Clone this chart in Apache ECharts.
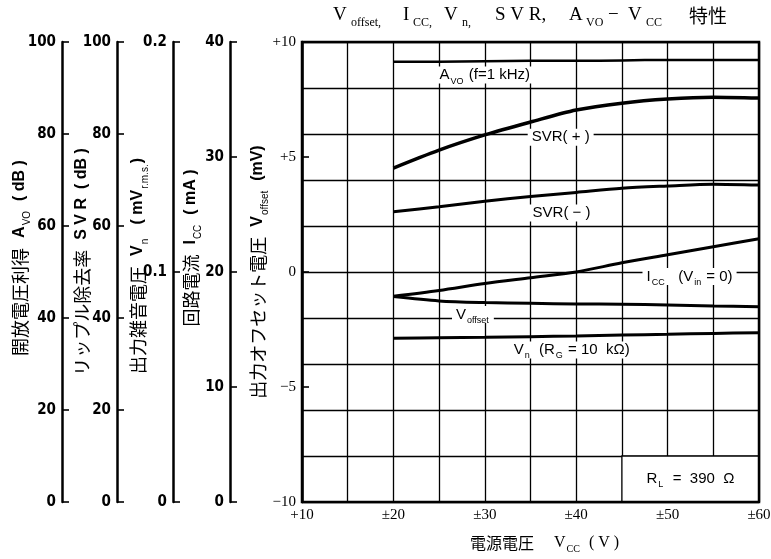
<!DOCTYPE html>
<html>
<head>
<meta charset="utf-8">
<script src="https://cdn.jsdelivr.net/npm/echarts@6/dist/echarts.min.js"></script>
<style>
  html, body { margin: 0; padding: 0; background: #fff; }
  #chart { width: 771px; height: 559px; }
</style>
</head>
<body>
<div id="chart"></div>
<script>
// Supply voltage points (±V) where each characteristic was measured
const vcc = [20, 25, 30, 35, 40, 45, 50, 55, 60];
// Open-loop gain A_VO (dB), f = 1 kHz
const avoDb = [95.7, 95.7, 95.8, 95.9, 95.9, 96.0, 96.1, 96.1, 96.1];
// Supply voltage rejection (dB), positive and negative rails
const svrPlusDb = [72.6, 76.5, 79.8, 82.6, 85.2, 86.7, 87.6, 88.0, 87.8];
const svrMinusDb = [63.1, 64.2, 65.4, 66.4, 67.3, 68.2, 68.7, 69.1, 68.9];
// Supply current I_CC (mA), V_in = 0
const iccMa = [17.9, 18.4, 19.0, 19.5, 20.0, 20.8, 21.5, 22.2, 22.9];
// Output offset voltage (mV)
const voffsetMv = [-1.07, -1.26, -1.33, -1.36, -1.39, -1.40, -1.43, -1.48, -1.51];
// Output noise voltage V_n (mV r.m.s.), R_G = 10 kΩ
const vnMv = [0.0712, 0.0714, 0.0716, 0.0719, 0.0722, 0.0726, 0.0729, 0.0733, 0.0736];

// Tick labels
const xTickValues = [10, 20, 30, 40, 50, 60];
const xTickLabels = ['+10', '±20', '±30', '±40', '±50', '±60'];
const mvTickValues = [-10, -5, 0, 5, 10];
const mvTickLabels = ['−10', '−5', '0', '+5', '+10'];
const vnTickValues = [0, 0.1, 0.2];
const vnTickLabels = ['0', '0.1', '0.2'];

const serif = "'Liberation Serif','DejaVu Serif',serif";
const sans = "'Liberation Sans','DejaVu Sans',sans-serif";
const narrow = "'Liberation Sans Narrow','DejaVu Sans Condensed','Liberation Sans',sans-serif";
const cjk = "'Noto Sans CJK JP',sans-serif";

function lookup(values, labels) {
  return function (v) {
    const i = values.findIndex(t => Math.abs(t - v) < 1e-9);
    return i < 0 ? '' : labels[i];
  };
}

const rich = {
  j: { fontFamily: cjk, fontSize: 18, color: '#000' },
  b: { fontFamily: sans, fontSize: 16, fontWeight: 'bold', color: '#000' },
  bs: { fontFamily: sans, fontSize: 10, color: '#000', verticalAlign: 'bottom', padding: [0, 1, -3, 1] },
  t: { fontFamily: sans, fontSize: 15, color: '#000' },
  ts: { fontFamily: sans, fontSize: 9, color: '#000', verticalAlign: 'bottom', padding: [0, 1, -3, 1] },
  x: { fontFamily: serif, fontSize: 16, color: '#000' },
  xs: { fontFamily: serif, fontSize: 10, color: '#000', verticalAlign: 'bottom', padding: [0, 1, -3, 1] },
  xj: { fontFamily: cjk, fontSize: 16, color: '#000' }
};

// Title pieces laid out with fixed widths for the wide typesetting
const titleRich = {
  n: { fontFamily: serif, fontSize: 19, fontWeight: 'normal', color: '#000' },
  s: { fontFamily: serif, fontSize: 12, fontWeight: 'normal', color: '#000', verticalAlign: 'bottom', padding: [0, 0, -4, 1] },
  j: { fontFamily: cjk, fontSize: 19, fontWeight: 'normal', color: '#000' }
};
function tw(style, w) {
  return Object.assign({}, titleRich[style], { width: w });
}
Object.assign(titleRich, {
  v1: tw('n', 17), o1: tw('s', 52), i1: tw('n', 9), c1: tw('s', 31), v2: tw('n', 17), n1: tw('s', 33),
  sv: tw('n', 74), a1: tw('n', 16), vo: tw('s', 22), m1: tw('n', 20), v3: tw('n', 17), c2: tw('s', 43), tk: tw('j', 62)
});

function leftAxis(offset, min, max, interval, name, nameGap, shiftUp, formatter, labelFont, labelWeight) {
  return {
    type: 'value', position: 'left', offset, min, max, interval,
    axisLine: { show: true, onZero: false, lineStyle: { color: '#000', width: 2.5 } },
    axisTick: { show: true, inside: true, length: 7, lineStyle: { color: '#000', width: 1.6 } },
    axisLabel: {
      color: '#000', fontFamily: labelFont || narrow, fontWeight: labelWeight || 'bold', fontSize: 15,
      margin: 6, formatter
    },
    splitLine: { show: false },
    name, nameLocation: 'middle', nameGap, nameRotate: 90, nameMoveOverlap: false,
    nameTextStyle: { rich, padding: [0, 0, 0, shiftUp * 2] }
  };
}

function curve(name, values, yAxisIndex, width, labelText, labelAt) {
  return {
    type: 'line', name, yAxisIndex,
    data: vcc.map((x, i) => [x, values[i]]),
    smooth: 0.3, symbol: 'none', z: 3,
    lineStyle: { color: '#000', width },
    markPoint: {
      silent: true, symbol: 'rect', symbolSize: 1,
      itemStyle: { color: 'rgba(0,0,0,0)' },
      label: {
        show: true, position: 'inside', color: '#000',
        formatter: labelText, backgroundColor: '#fff', padding: [1, 4], rich
      },
      data: [{ coord: labelAt }]
    }
  };
}

const chart = echarts.init(document.getElementById('chart'), null, { renderer: 'canvas' });

const offsetSeries = curve('Voffset', voffsetMv, 0, 3, '{t|V}{ts|offset}', [28.7, -1.85]);
offsetSeries.markArea = {
  silent: true,
  itemStyle: { color: '#fff', borderColor: '#000', borderWidth: 1.3 },
  label: {
    show: true, position: 'inside', color: '#000',
    formatter: '{t|R}{ts|L}{t|  =  390  Ω}', rich
  },
  data: [[{ coord: [45, -10] }, { coord: [60, -8] }]]
};

chart.setOption({
  animation: false,
  backgroundColor: '#fff',
  title: {
    text: '{v1|V}{o1|offset,}{i1|I}{c1|CC,}{v2|V}{n1|n,}{sv|S V R,}{a1|A}{vo|VO}{m1|−}{v3|V}{c2|CC}{tk|特性}',
    left: 333, top: 6, padding: 0,
    textStyle: { rich: titleRich }
  },
  grid: {
    left: 302, right: 12, top: 42, bottom: 57,
    containLabel: false, outerBoundsMode: 'none',
    show: true, z: 6, backgroundColor: 'transparent',
    borderColor: '#000', borderWidth: 2.5
  },
  xAxis: {
    type: 'value', min: 10, max: 60, interval: 5,
    axisLine: { show: false }, axisTick: { show: false },
    axisLabel: {
      color: '#000', fontFamily: serif, fontSize: 15, margin: 6,
      formatter: lookup(xTickValues, xTickLabels)
    },
    splitLine: { show: true, lineStyle: { color: '#000', width: 1.3 } }
  },
  yAxis: [
    // 0: output offset voltage (mV)
    leftAxis(0, -10, 10, 5,
      '{j|出力オフセット電圧}   {b|V}{bs|offset}{b|  (mV)}', 35, 0,
      lookup(mvTickValues, mvTickLabels), serif, 'normal'),
    // 1: grid rows every 2 mV
    {
      type: 'value', position: 'left', min: -10, max: 10, interval: 2,
      axisLine: { show: false }, axisTick: { show: false }, axisLabel: { show: false },
      splitLine: { show: true, lineStyle: { color: '#000', width: 1.3 } }
    },
    // 2: supply current (mA)
    leftAxis(72, 0, 40, 10, '{j|回路電流}   {b|I}{bs|CC}{b|  ( mA )}', 30, 24),
    // 3: output noise voltage (mV r.m.s.)
    leftAxis(129, 0, 0.2, 0.1, '{j|出力雑音電圧}   {b|V}{bs|n}{b|   ( mV}{bs|r.m.s.}{b|)}', 26, 6,
      lookup(vnTickValues, vnTickLabels)),
    // 4: supply voltage rejection (dB)
    leftAxis(185, 0, 100, 20, '{j|リップル除去率}   {b|S V R  ( dB )}', 26, 10),
    // 5: open-loop voltage gain (dB)
    leftAxis(240, 0, 100, 20, '{j|開放電圧利得}   {b|A}{bs|VO}{b|  ( dB )}', 33, 14)
  ],
  graphic: [{
    type: 'text', left: 470, top: 535, silent: true,
    style: {
      text: '{xj|電源電圧}      {x|V}{xs|CC}{x|  ( V )}',
      rich
    }
  }],
  series: [
    curve('Avo', avoDb, 5, 2.5, '{t|A}{ts|VO}{t| (f=1 kHz)}', [30, 92.8]),
    curve('SVR+', svrPlusDb, 4, 3.5, '{t|SVR( + )}', [38.3, 79.3]),
    curve('SVR-', svrMinusDb, 4, 3, '{t|SVR( − )}', [38.4, 62.8]),
    curve('Icc', iccMa, 2, 3, '{t|I}{ts|CC}{t|   (V}{ts|in}{t| = 0)}', [52.4, 19.6]),
    offsetSeries,
    curve('Vn', vnMv, 3, 3, '{t|V}{ts|n}{t|  (R}{ts|G}{t| = 10  kΩ)}', [39.5, 0.0661])
  ]
});
</script>
</body>
</html>
